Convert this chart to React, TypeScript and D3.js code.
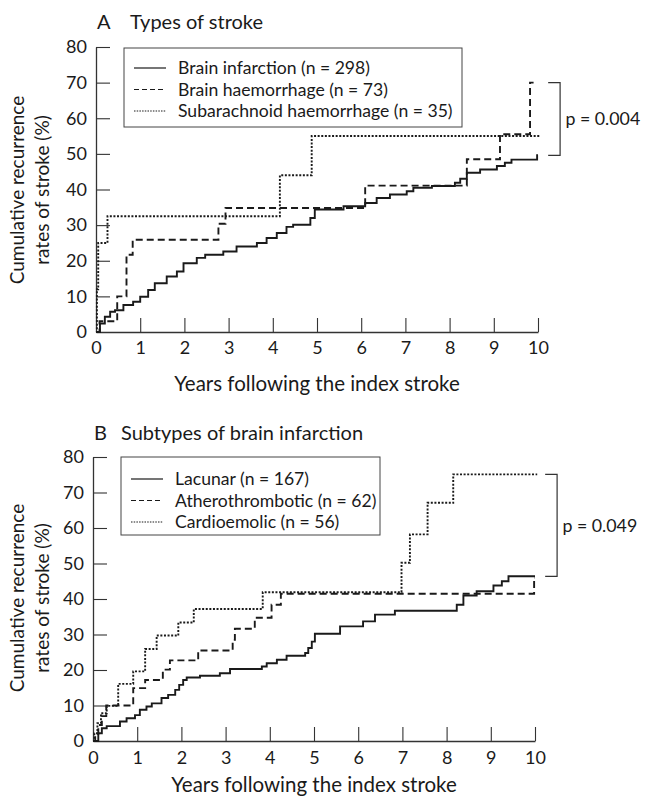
import React, { useEffect, useRef } from "react";
import * as d3 from "d3";

// Panel A: types of stroke (years, cumulative recurrence %)
const infarctionYears = [0, 0.09, 0.2, 0.32, 0.43, 0.62, 0.84, 1.0, 1.18, 1.33, 1.6, 1.83, 1.98, 2.28, 2.47, 2.88, 3.18, 3.64, 3.86, 4.09, 4.31, 4.46, 4.85, 4.95, 5.6, 6.09, 6.35, 6.65, 7.03, 7.18, 7.6, 8.12, 8.24, 8.39, 8.69, 9.07, 9.25, 9.4, 9.98, 10.0];
const infarctionRates = [0, 2.4, 4.3, 5.7, 6.1, 7.6, 8.5, 9.9, 11.8, 13.7, 15.6, 17, 19.3, 20.8, 21.7, 22.6, 24, 25, 26.4, 27.8, 29.5, 30.1, 32, 34.4, 35.3, 36.2, 37.6, 38.6, 39.5, 40.5, 41, 41.9, 43, 44.7, 45.6, 46.6, 47.5, 48.4, 49.6, 49.6];

const haemorrhageYears = [0, 0.08, 0.48, 0.69, 0.83, 2.77, 2.93, 6.09, 8.39, 9.14, 9.82, 9.9];
const haemorrhageRates = [0, 3, 10, 21.7, 25.9, 30.4, 34.8, 41.1, 48.5, 55.5, 70, 70];

const subarachnoidYears = [0, 0.02, 0.05, 0.26, 4.16, 4.88, 10.05];
const subarachnoidRates = [0, 12, 25, 32.5, 44, 55, 55];

// Panel B: subtypes of brain infarction
const lacunarYears = [0, 0.12, 0.2, 0.31, 0.61, 0.76, 0.95, 1.06, 1.21, 1.33, 1.55, 1.7, 1.86, 1.95, 2.04, 2.12, 2.42, 2.87, 3.1, 3.82, 3.93, 4.16, 4.38, 4.8, 4.87, 4.95, 5.02, 5.59, 6.11, 6.38, 6.83, 8.23, 8.38, 8.68, 9.06, 9.25, 9.4, 10.0];
const lacunarRates = [0, 2.2, 3.6, 4.2, 5.5, 6.4, 7.3, 8.8, 9.7, 10.6, 12.1, 13, 14.4, 15.8, 17.2, 17.9, 18.4, 19.1, 20.3, 21, 21.9, 22.9, 24, 24.8, 26.2, 28, 30.2, 32.3, 33.7, 35.6, 36.7, 38.4, 41, 42.2, 43.8, 45, 46.4, 46.4];

const atheroYears = [0, 0.05, 0.12, 0.2, 0.3, 0.91, 1.18, 1.58, 1.74, 2.38, 3.16, 3.21, 3.66, 4.04, 4.25, 9.98, 10.0];
const atheroRates = [0, 2, 4.5, 7, 10, 14.9, 17.2, 20.1, 22.7, 25.5, 28.5, 31.6, 34.7, 38.4, 41.5, 46, 46];

const cardioYears = [0, 0.03, 0.1, 0.18, 0.31, 0.57, 0.91, 1.18, 1.44, 1.93, 2.28, 3.84, 6.98, 7.17, 7.57, 8.15, 10.05];
const cardioRates = [0, 2.2, 5, 7.8, 9.9, 16.1, 19.6, 25.9, 29.7, 33.4, 37.2, 41.9, 50.2, 58.2, 67.1, 75.1, 75.1];

const xTicks = [0, 1, 2, 3, 4, 5, 6, 7, 8, 9, 10];
const yTicks = [0, 10, 20, 30, 40, 50, 60, 70, 80];

const FONT = "Lato, 'DejaVu Sans', sans-serif";
const INK = "#1a1a1a";

const dashFor = {
  solid: null,
  dashed: "7,4",
  dotted: "2,1.6",
};

function drawPanel(svg, opt) {
  const x = d3.scaleLinear().domain([0, 10]).range([opt.left, opt.right]);
  const y = d3.scaleLinear().domain([0, 80]).range([opt.bottom, opt.top]);
  const g = svg.append("g");

  // title: panel letter + caption
  g.append("text")
    .attr("x", opt.left + 1)
    .attr("y", opt.titleY)
    .attr("font-size", 20)
    .attr("fill", INK)
    .text(opt.letter);
  g.append("text")
    .attr("x", opt.captionX)
    .attr("y", opt.titleY)
    .attr("font-size", 20)
    .attr("fill", INK)
    .text(opt.title);

  // axes, ticks point inward
  const xAxis = g.append("g")
    .attr("transform", `translate(0,${opt.bottom})`)
    .call(d3.axisBottom(x).tickValues(xTicks).tickSize(-14).tickSizeOuter(0).tickPadding(opt.xPad).tickFormat(d3.format("d")));
  const yAxis = g.append("g")
    .attr("transform", `translate(${opt.left},0)`)
    .call(d3.axisLeft(y).tickValues(yTicks).tickSize(-14).tickSizeOuter(0).tickPadding(9).tickFormat(d3.format("d")));
  [xAxis, yAxis].forEach(a => {
    a.attr("font-family", FONT).attr("font-size", 18);
    a.selectAll("text").attr("fill", INK);
    a.selectAll("line").attr("stroke", "#333").attr("stroke-width", 1.1);
    a.select(".domain").attr("stroke", "#333").attr("stroke-width", 1.3);
  });
  xAxis.selectAll(".tick").filter(d => d === 0).select("line").remove();
  yAxis.selectAll(".tick").filter(d => d === 0).select("line").remove();

  // axis titles
  g.append("text")
    .attr("x", (opt.left + opt.right) / 2)
    .attr("y", opt.xTitleY)
    .attr("text-anchor", "middle")
    .attr("font-size", 20.5)
    .attr("fill", INK)
    .text("Years following the index stroke");
  const yt = g.append("text")
    .attr("transform", `translate(${opt.yTitleX},${opt.yTitleMid}) rotate(-90)`)
    .attr("text-anchor", "middle")
    .attr("font-size", 19)
    .attr("fill", INK);
  yt.append("tspan").attr("x", 0).attr("dy", 0).text("Cumulative recurrence");
  yt.append("tspan").attr("x", 0).attr("dy", 25).text("rates of stroke (%)");

  // curves
  const line = d3.line().curve(d3.curveStepAfter).x(d => x(d[0])).y(d => y(d[1]));
  opt.series.forEach(s => {
    const pts = d3.zip(s.years, s.rates);
    g.append("path")
      .attr("d", line(pts))
      .attr("fill", "none")
      .attr("stroke", INK)
      .attr("stroke-width", 1.9)
      .attr("stroke-dasharray", dashFor[s.style]);
  });

  // legend
  const lg = g.append("g");
  lg.append("rect")
    .attr("x", opt.legend.x).attr("y", opt.legend.y)
    .attr("width", opt.legend.w).attr("height", opt.legend.h)
    .attr("fill", "#fff").attr("stroke", "#444").attr("stroke-width", 1);
  opt.series.forEach((s, i) => {
    const cy = opt.legend.y + opt.legend.row0 + i * opt.legend.step;
    lg.append("line")
      .attr("x1", opt.legend.x + 10).attr("x2", opt.legend.x + 42)
      .attr("y1", cy).attr("y2", cy)
      .attr("stroke", INK).attr("stroke-width", 1.2)
      .attr("stroke-dasharray", s.style === "dashed" ? "5,3" : s.style === "dotted" ? "1.5,1.2" : null);
    lg.append("text")
      .attr("x", opt.legend.x + 54).attr("y", cy)
      .attr("dy", "0.35em")
      .attr("font-size", 17.6)
      .attr("fill", INK)
      .text(s.label);
  });

  // log-rank bracket between end points
  const ends = opt.series.map(s => s.rates[s.rates.length - 1]);
  const top = y(d3.max(ends));
  const bot = y(opt.series[0].rates[opt.series[0].rates.length - 1]);
  const bx0 = x(10.23), bx1 = x(10.5);
  g.append("path")
    .attr("d", `M${bx0},${top}H${bx1}V${bot}H${bx0}`)
    .attr("fill", "none").attr("stroke", "#333").attr("stroke-width", 1.2);
  g.append("text")
    .attr("x", x(10.62)).attr("y", (top + bot) / 2)
    .attr("dy", "0.35em")
    .attr("font-size", 17.8)
    .attr("fill", INK)
    .text(opt.pText);
}

const App = () => {
  const ref = useRef(null);

  useEffect(() => {
    const svg = d3.select(ref.current);
    svg.selectAll("*").remove();
    svg.attr("font-family", FONT);

    drawPanel(svg, {
      left: 96, right: 538, top: 47, bottom: 332,
      letter: "A", title: "Types of stroke", captionX: 130, titleY: 29,
      xPad: 9, xTitleY: 391, yTitleX: 24, yTitleMid: 190,
      pText: "p = 0.004",
      legend: { x: 124, y: 48, w: 338, h: 79, row0: 20, step: 21.5 },
      series: [
        { label: "Brain infarction (n = 298)", years: infarctionYears, rates: infarctionRates, style: "solid" },
        { label: "Brain haemorrhage (n = 73)", years: haemorrhageYears, rates: haemorrhageRates, style: "dashed" },
        { label: "Subarachnoid haemorrhage (n = 35)", years: subarachnoidYears, rates: subarachnoidRates, style: "dotted" },
      ],
    });

    drawPanel(svg, {
      left: 93, right: 535, top: 457, bottom: 741,
      letter: "B", title: "Subtypes of brain infarction", captionX: 121, titleY: 440,
      xPad: 10, xTitleY: 792, yTitleX: 24, yTitleMid: 598,
      pText: "p = 0.049",
      legend: { x: 121, y: 457, w: 259, h: 78, row0: 22, step: 21.5 },
      series: [
        { label: "Lacunar (n = 167)", years: lacunarYears, rates: lacunarRates, style: "solid" },
        { label: "Atherothrombotic (n = 62)", years: atheroYears, rates: atheroRates, style: "dashed" },
        { label: "Cardioemolic (n = 56)", years: cardioYears, rates: cardioRates, style: "dotted" },
      ],
    });
  }, []);

  return (
    <svg
      ref={ref}
      width={646}
      height={798}
      style={{ position: "absolute", left: 0, top: 0, background: "#fff" }}
    />
  );
};

export default App;
